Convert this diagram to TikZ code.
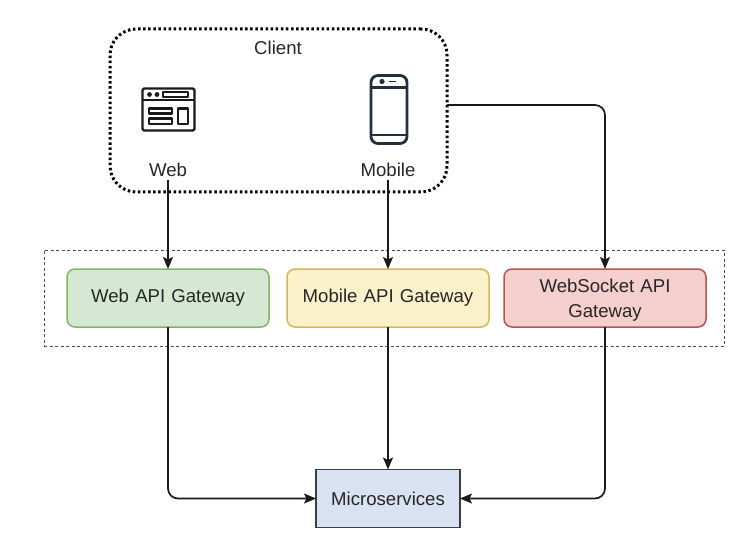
\documentclass[tikz,border=0pt]{standalone}
\usepackage{fontspec}
\setmainfont{Liberation Sans}
\usetikzlibrary{positioning,arrows.meta}
\definecolor{webfill}{HTML}{D5E8D4}
\definecolor{webline}{HTML}{82B366}
\definecolor{mobfill}{HTML}{FBF2CC}
\definecolor{mobline}{HTML}{D6B656}
\definecolor{sockfill}{HTML}{F4CFCD}
\definecolor{sockline}{HTML}{B85450}
\definecolor{svcfill}{HTML}{D9E2F3}
\definecolor{svcline}{HTML}{3A3F45}
\definecolor{phone}{HTML}{232F3E}
\tikzset{
  gateway/.style = {draw, line width=1.5pt, rounded corners=8pt, minimum width=202pt, minimum height=58pt, text width=180pt, align=center, outer sep=0pt},
  flow/.style = {-{Stealth[length=12pt,width=10pt,inset=2.5pt]}, line width=1.7pt, black!90, rounded corners=10pt},
  caption/.style = {inner sep=0pt, text height=13pt, text depth=0pt},
}
\begin{document}
\begin{tikzpicture}[x=1pt, y=-1pt, nodes = {align = center, font=\fontsize{18.6}{25}\selectfont, text=black!85}]
  \useasboundingbox (0,0) rectangle (755,540);
  \node (gateways) [draw=black!70, line width=0.8pt, dash pattern=on 3pt off 2.5pt, minimum width=680pt, minimum height=96pt] at (384,298) {};
  \node (client) [draw=black, line width=3pt, dash pattern=on 2.5pt off 2.6pt, rounded corners=26pt, minimum width=337pt, minimum height=163pt, outer sep=0pt] at (278.5,110.5) {};
  \node (clientlabel) [caption] at (278,48) {Client};
  \node (weblabel) [caption] at (168,170) {Web};
  \node (moblabel) [caption] at (388,170) {Mobile};

  % web icon
  \begin{scope}[line width=2.4pt, black!90, line join=round]
    \draw[rounded corners=1.5pt] (142.5,88.5) rectangle (194.5,130.5);
    \draw (142.5,100) -- (194.5,100);
    \fill (149.5,94.5) circle (2.4pt) (157,94.5) circle (2.4pt);
    \draw (163,92) rectangle (188,97);
    \draw (149,108.5) rectangle (172,113.5);
    \draw (149,118.5) rectangle (172,124);
    \draw (178,108.5) rectangle (188,124);
  \end{scope}
  % mobile icon
  \begin{scope}[line width=2.8pt, phone, line join=round]
    \draw[rounded corners=7pt] (371,75.5) rectangle (407,143.5);
    \draw (371,87.5) -- (407,87.5);
    \draw (371,135) -- (407,135);
    \fill (382,81.5) circle (2.6pt);
    \draw[line width=1.8pt] (388.5,81.5) -- (396,81.5);
  \end{scope}

  \node (webgw) [gateway, fill=webfill, draw=webline] at (168,298) {Web API Gateway};
  \node (mobgw) [gateway, fill=mobfill, draw=mobline, right = 18pt of webgw] {Mobile API Gateway};
  \node (sockgw) [gateway, fill=sockfill, draw=sockline, right = 15pt of mobgw] {\rule{0pt}{17pt}WebSocket API\\Gateway};
  \node (micro) [draw=svcline, fill=svcfill, line width=1.6pt, minimum width=144pt, minimum height=58pt, outer sep=0pt] at (388,498.5) {Microservices};

  \draw[flow] (weblabel.south) ++(0,-3pt) -- (webgw.north);
  \draw[flow] (moblabel.south) ++(0,-3pt) -- (mobgw.north);
  \draw[flow] ([yshift=5.5pt]client.east) -| (sockgw.north);
  \draw[flow] (webgw.south) |- (micro.west);
  \draw[flow] (mobgw.south) -- (micro.north);
  \draw[flow] (sockgw.south) |- (micro.east);
\end{tikzpicture}
\end{document}
